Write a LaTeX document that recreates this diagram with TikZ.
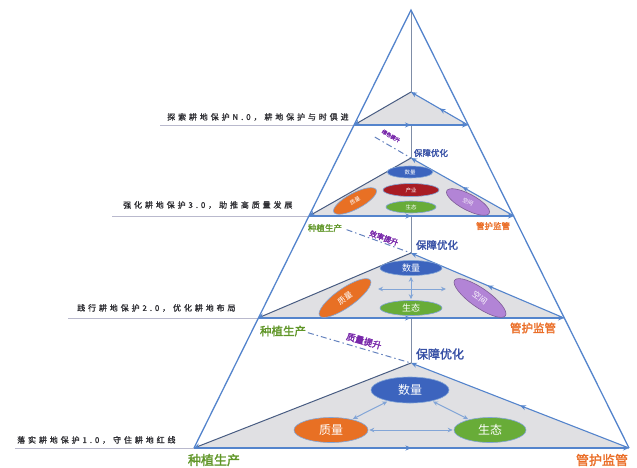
\documentclass[tikz,border=0pt]{standalone}
\usepackage{fontspec}
\setmainfont{Noto Sans CJK SC}
\newfontfamily\cjk[AutoFakeBold=2]{Noto Sans CJK SC}
\newfontfamily\cjksp[LetterSpace=36,AutoFakeBold=1.2]{Noto Sans CJK SC}
\usetikzlibrary{shapes.geometric,arrows.meta,decorations.markings,calc}
\definecolor{outblue}{RGB}{84,132,204}
\definecolor{slate}{RGB}{72,92,130}
\definecolor{trifill}{RGB}{224,224,227}
\definecolor{qblue}{RGB}{60,100,190}
\definecolor{qorange}{RGB}{232,112,36}
\definecolor{qgreen}{RGB}{104,172,56}
\definecolor{qpurple}{RGB}{178,132,214}
\definecolor{qred}{RGB}{168,28,36}
\definecolor{lgreen}{RGB}{96,150,40}
\definecolor{lorange}{RGB}{234,110,40}
\definecolor{lblue}{RGB}{55,80,165}
\definecolor{lpurple}{RGB}{120,40,170}
\definecolor{lvl}{RGB}{45,45,50}
\definecolor{lvlline}{RGB}{185,185,205}
\definecolor{arrlight}{RGB}{130,165,215}
\definecolor{dashc}{RGB}{100,130,190}
\tikzset{
  tri/.style={fill=trifill},
  leftedge/.style={draw=slate,line width=1pt,-{Stealth[length=6pt,width=5pt,color=outblue]}},
  baseedge/.style={draw=outblue,line width=1.4pt,-{Stealth[length=6pt,width=5pt]},
     postaction={decorate},decoration={markings,mark=at position 0.5 with {\arrow{Stealth[length=6pt,width=5pt]}}}},
  rightedge/.style={draw=outblue,line width=1.1pt,-{Stealth[length=6pt,width=5pt]},
     postaction={decorate},decoration={markings,mark=at position 0.5 with {\arrow{Stealth[length=6pt,width=5pt]}}}},
  outer/.style={draw=outblue,line width=1.3pt},
  lvlrule/.style={draw=lvlline,line width=0.7pt},
  lvltext/.style={anchor=west,text=lvl,inner sep=0pt,font={\cjksp\bfseries\fontsize{8pt}{8pt}\selectfont}},
  ell/.style={ellipse,draw=arrlight,line width=0.6pt,text=white,inner sep=0pt},
  darr/.style={draw=arrlight,line width=1pt,{Stealth[length=5pt,width=4.5pt]}-{Stealth[length=5pt,width=4.5pt]},shorten >=1pt,shorten <=1pt},
  dashln/.style={draw=dashc,line width=1pt,dash pattern=on 6pt off 3pt on 1.5pt off 3pt},
  lab/.style={inner sep=0pt,font={\cjk\bfseries\fontsize{#1}{#1}\selectfont}},
}
\begin{document}
\begin{tikzpicture}[x=1pt,y=-1pt]
\useasboundingbox (0,0) rectangle (637,467);
% vertices
\coordinate (T) at (411,10);
\coordinate (L1) at (194,448); \coordinate (R1) at (629,448);
\coordinate (L2) at (258,318); \coordinate (R2) at (564,318);
\coordinate (L3) at (309,216); \coordinate (R3) at (514,216);
\coordinate (LN) at (354,125); \coordinate (RN) at (468,125);
\coordinate (A1) at (411,363); \coordinate (A2) at (411,253);
\coordinate (A3) at (411,158); \coordinate (AN) at (411,92);
% centre line
\draw[draw=slate!70,line width=0.6pt] (T) -- (A1);
% level rules and texts
\coordinate (s1) at (15,448); \coordinate (s2) at (68,318);
\coordinate (s3) at (112,216); \coordinate (sN) at (160,125);
\draw[lvlrule] (s1) -- (L1);
\draw[lvlrule] (s2) -- (L2);
\draw[lvlrule] (s3) -- (L3);
\draw[lvlrule] (sN) -- (LN);
\node[lvltext] (t1) at (17,440) {落实耕地保护1.0，守住耕地红线};
\node[lvltext] (t2) at (77,308) {践行耕地保护2.0，优化耕地布局};
\node[lvltext] (t3) at (123,205) {强化耕地保护3.0，助推高质量发展};
\node[lvltext] (tN) at (167,117) {探索耕地保护N.0，耕地保护与时俱进};
% gray triangles
\foreach \k in {1,2,3,N}{
  \fill[tri] (L\k) -- (R\k) -- (A\k) -- cycle;
  \draw[leftedge] (A\k) -- (L\k);
  \draw[baseedge] (L\k) -- (R\k);
  \draw[rightedge] (R\k) -- (A\k);
}
% outer triangle
\draw[outer] (L1) -- (T) -- (R1);
% dashed links
\draw[dashln,shorten <=52pt] (L2) -- (A1);
\draw[dashln,shorten <=40pt] (L3) -- (A2);
\draw[dashln,shorten <=24pt] (LN) -- (A3);
\node[lab=9pt,text=lpurple,rotate=-16] (p1) at (364,341) {质量提升};
\node[lab=7.5pt,text=lpurple,rotate=-20] (p2) at (384,238) {效率提升};
\node[lab=5pt,text=lpurple,rotate=-30] (p3) at (391,136) {绿色提升};
% level 1 ellipses
\node[ell,fill=qblue,minimum width=78pt,minimum height=26pt,font={\cjk\fontsize{12pt}{12pt}\selectfont}] (sl1) at (410,390) {数量};
\node[ell,fill=qorange,minimum width=74pt,minimum height=25pt,font={\cjk\fontsize{12pt}{12pt}\selectfont}] (zl1) at (331,430) {质量};
\node[ell,fill=qgreen,minimum width=72pt,minimum height=25pt,font={\cjk\fontsize{12pt}{12pt}\selectfont}] (gl1) at (490,430) {生态};
\draw[darr] (sl1) -- (zl1);
\draw[darr] (sl1) -- (gl1);
\draw[darr] (zl1) -- (gl1);
% level 2 ellipses
\node[ell,fill=qblue,minimum width=62pt,minimum height=15pt,font={\cjk\fontsize{9pt}{9pt}\selectfont}] (sl2) at (411,268) {数量};
\node[ell,fill=qgreen,minimum width=62pt,minimum height=15pt,font={\cjk\fontsize{9pt}{9pt}\selectfont}] (gl2) at (411,308) {生态};
\node[ell,fill=qorange,rotate=35,minimum width=62pt,minimum height=19pt,font={\cjk\fontsize{8pt}{8pt}\selectfont}] (zl2) at (345,298) {质量};
\node[ell,fill=qpurple,draw=qpurple!70!black,rotate=-35,minimum width=62pt,minimum height=19pt,font={\cjk\fontsize{8pt}{8pt}\selectfont}] (kl2) at (480,298) {空间};
\coordinate (h2a) at (377,289); \coordinate (h2b) at (447,289);
\draw[darr] (h2a) -- (h2b);
\draw[darr] (sl2) -- (gl2);
% level 3 ellipses
\node[ell,fill=qblue,minimum width=46pt,minimum height=12pt,font={\cjk\fontsize{5.5pt}{5.5pt}\selectfont}] (sl3) at (410,172) {数量};
\node[ell,fill=qred,minimum width=56pt,minimum height=13pt,font={\cjk\fontsize{5.5pt}{5.5pt}\selectfont}] (cl3) at (411,190) {产业};
\node[ell,fill=qgreen,minimum width=50pt,minimum height=12pt,font={\cjk\fontsize{5.5pt}{5.5pt}\selectfont}] (gl3) at (411,207) {生态};
\node[ell,fill=qorange,rotate=28,minimum width=48pt,minimum height=16pt,font={\cjk\fontsize{5.5pt}{5.5pt}\selectfont}] (zl3) at (355,201) {质量};
\node[ell,fill=qpurple,draw=qpurple!70!black,rotate=-28,minimum width=48pt,minimum height=16pt,font={\cjk\fontsize{5.5pt}{5.5pt}\selectfont}] (kl3) at (468,202) {空间};
% vertex labels
\node[lab=13pt,text=lgreen] (g1) at (214,460) {种植生产};
\node[lab=13pt,text=lorange] (o1) at (602,460) {管护监管};
\node[lab=12pt,text=lblue] (b1) at (440,354) {保障优化};
\node[lab=11.5pt,text=lgreen] (g2) at (283,331) {种植生产};
\node[lab=11.5pt,text=lorange] (o2) at (533,328) {管护监管};
\node[lab=10.5pt,text=lblue] (b2) at (437,245) {保障优化};
\node[lab=8.5pt,text=lgreen] (g3) at (325,228) {种植生产};
\node[lab=8.5pt,text=lorange] (o3) at (493,226) {管护监管};
\node[lab=8.5pt,text=lblue] (b3) at (431,153) {保障优化};
\end{tikzpicture}
\end{document}
